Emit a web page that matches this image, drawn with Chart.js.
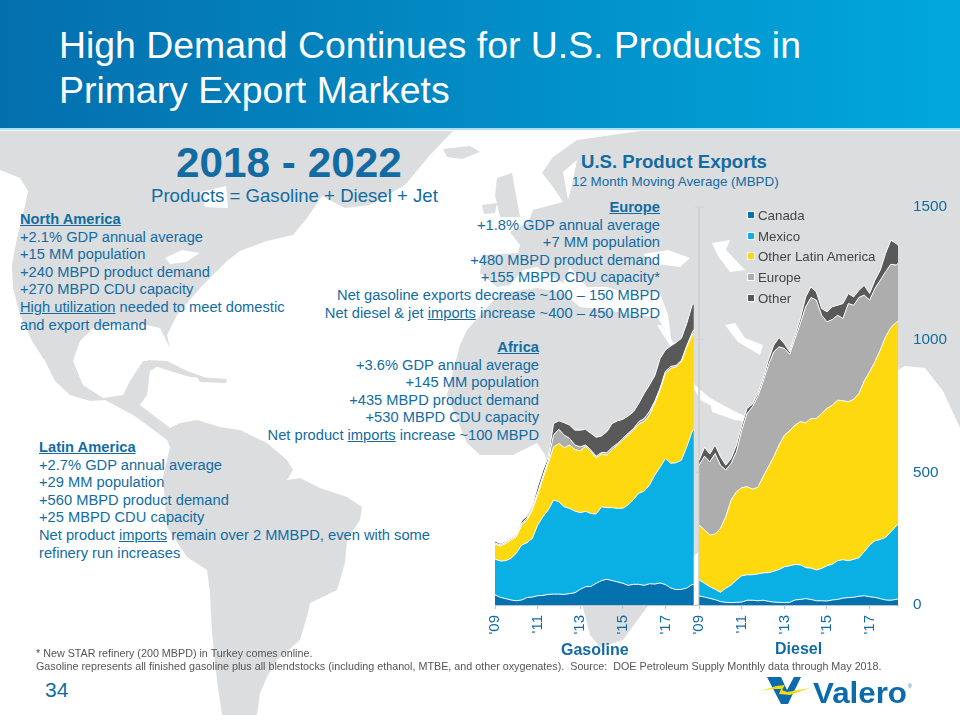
<!DOCTYPE html>
<html>
<head>
<meta charset="utf-8">
<title>High Demand Continues for U.S. Products</title>
<script src="https://cdn.jsdelivr.net/npm/chart.js@4"></script>
<style>
    html, body { margin: 0; padding: 0; background: #fff; }
    #page { position: relative; width: 960px; height: 720px; overflow: hidden; font-family: "Liberation Sans", Arial, sans-serif; color: #126ca3; }
    #header { position: absolute; left: 0; top: 0; width: 960px; height: 128px; background: linear-gradient(to right, #046fad, #00a8dd); border-bottom: 2px solid #a9e0f5; }
    #title { position: absolute; left: 59px; top: 23px; font-size: 37.4px; line-height: 45px; color: #fff; white-space: nowrap; }
    #map { position: absolute; left: 0; top: 130px; }
    #chartbox { position: absolute; left: 475px; top: 190px; width: 485px; height: 460px; }
    .t { position: absolute; white-space: nowrap; }
    .block { font-size: 14.7px; line-height: 17.6px; }
    .right { text-align: right; }
    .block b { text-decoration: underline; }
    #legend { position: absolute; left: 747px; top: 206px; font-size: 13.3px; color: #454545; }
    #legend div { height: 20.7px; line-height: 20.7px; white-space: nowrap; }
    #legend i { display: inline-block; width: 6px; height: 6px; border: 1px solid #fff; margin-right: 3px; vertical-align: 1px; }
    #foot { left: 36px; top: 647px; font-size: 10.75px; line-height: 13px; color: #555; }
</style>
</head>
<body>
<div id="page">
    <svg id="map" width="960" height="590" viewBox="0 130 960 590">
        <g fill="#dcdddf">
            <!-- north + south america, greenland -->
            <path d="M0 131 L453 131 L430 155 L405 185 L370 205 L345 208 L322 196 L307 218 L293 235 L267 241 L240 251 L227 261 L210 278 L200 288 L177 315 L167 335 L170 348 L160 328 L147 325 L120 325 L93 328 L80 341 L73 361 L83 385 L103 398 L123 395 L130 381 L143 361 L167 361 L150 371 L147 395 L140 405 L157 418 L170 428 L180 423 L197 420 L220 427 L240 430 L267 443 L287 460 L293 470 L287 480 L300 478 L320 488 L347 497 L362 507 L360 520 L347 540 L345 563 L337 590 L310 603 L308 613 L300 640 L277 660 L267 677 L260 693 L257 715 L222 715 L217 680 L212 633 L210 593 L207 570 L187 557 L167 527 L163 477 L170 447 L167 440 L147 425 L133 415 L105 400 L90 401 L70 395 L55 381 L45 361 L32 341 L20 315 L13 288 L12 265 L17 238 L23 215 L28 191 L20 178 L0 170 Z"/>
            <path d="M147 360 L167 361 L187 371 L207 378 L190 377 L160 368 Z"/>
            <path d="M197 377 L227 379 L226 383 L200 382 Z"/>
            <path d="M443 149 L470 146 L480 152 L462 159 L447 157 Z"/>
            <path d="M497 178 L512 173 L520 217 L500 217 L495 195 Z"/>
            <path d="M482 205 L497 203 L495 213 L484 214 Z"/>
            <!-- europe and asia -->
            <path d="M640 131 L577 140 L553 157 L542 173 L553 187 L563 202 L533 210 L528 223 L510 232 L520 245 L518 253 L482 255 L480 273 L497 287 L510 285 L523 270 L537 267 L553 277 L563 283 L570 267 L587 287 L607 287 L617 290 L633 290 L660 293 L668 315 L672 345 L695 385 L710 398 L760 425 L800 470 L898 370 L905 366 L925 368 L943 391 L960 428 L960 131 Z"/>
            <!-- africa -->
            <path d="M460 345 L467 330 L500 293 L537 288 L563 293 L580 307 L607 310 L633 315 L657 317 L661 323 L672 345 L700 400 L745 423 L735 465 L700 550 L647 607 L623 640 L600 647 L590 635 L583 607 L545 455 L537 443 L513 455 L480 455 L467 443 L447 395 Z"/>
        </g>
        <g fill="#fff">
            <path d="M200 192 L226 186 L228 208 L205 207 Z"/>
            <path d="M165 258 L182 250 L200 253 L186 262 L170 264 Z"/>
            <path d="M643 254 L668 250 L690 258 L680 267 L655 264 Z"/>
            <path d="M712 243 L730 240 L726 250 L745 270 L730 272 L718 256 Z"/>
            <path d="M725 325 L735 323 L745 338 L763 345 L760 355 L738 342 Z"/>
            <path d="M710 400 L760 423 L735 420 L712 412 Z"/>
            <path d="M563 172 L577 160 L572 185 L568 200 Z"/>
            <path d="M657 325 L661 325 L675 345 L672 349 Z"/>
        </g>
    </svg>
    <div id="header"><div id="title">High Demand Continues for U.S. Products in<br>Primary Export Markets</div></div>

    <div class="t" style="left:176px;top:139px;font-size:42.3px;font-weight:bold;line-height:48px">2018 - 2022</div>
    <div class="t" style="left:151px;top:185px;font-size:18.6px;line-height:22px">Products = Gasoline + Diesel + Jet</div>
    <div class="t" style="left:581px;top:151px;font-size:18.6px;font-weight:bold;line-height:22px">U.S. Product Exports</div>
    <div class="t" style="left:572px;top:174px;font-size:13.4px;line-height:16px">12 Month Moving Average (MBPD)</div>

    <div class="t block" style="left:20px;top:211px"><b>North America</b><br>+2.1% GDP annual average<br>+15 MM population<br>+240 MBPD product demand<br>+270 MBPD CDU capacity<br><u>High utilization</u> needed to meet domestic<br>and export demand</div>
    <div class="t block" style="left:39px;top:439px"><b>Latin America</b><br>+2.7% GDP annual average<br>+29 MM population<br>+560 MBPD product demand<br>+25 MBPD CDU capacity<br>Net product <u>imports</u> remain over 2 MMBPD, even with some<br>refinery run increases</div>
    <div class="t block right" style="right:300px;top:199px"><b>Europe</b><br>+1.8% GDP annual average<br>+7 MM population<br>+480 MBPD product demand<br>+155 MBPD CDU capacity*<br>Net gasoline exports decrease ~100 – 150 MBPD<br>Net diesel &amp; jet <u>imports</u> increase ~400 – 450 MBPD</div>
    <div class="t block right" style="right:421px;top:339px"><b>Africa</b><br>+3.6% GDP annual average<br>+145 MM population<br>+435 MBPD product demand<br>+530 MBPD CDU capacity<br>Net product <u>imports</u> increase ~100 MBPD</div>

    <div id="chartbox"><canvas id="myChart"></canvas></div>
    <div id="legend"></div>

    <div class="t" style="left:561px;top:641px;font-size:16px;font-weight:bold;line-height:18px">Gasoline</div>
    <div class="t" style="left:775px;top:640px;font-size:16px;font-weight:bold;line-height:18px">Diesel</div>
    <div class="t" id="foot">* New STAR refinery (200 MBPD) in Turkey comes online.<br>Gasoline represents all finished gasoline plus all blendstocks (including ethanol, MTBE, and other oxygenates).&nbsp; Source:&nbsp; DOE Petroleum Supply Monthly data through May 2018.</div>
    <div class="t" style="left:45px;top:678px;font-size:21px;line-height:24px">34</div>

    <svg style="position:absolute;left:755px;top:672px" width="160" height="40" viewBox="755 672 160 40">
        <path d="M767 677 L781 677 L787 690 L794 677 L801 677 L788 704 L781 704 Z" fill="#0b6bab"/>
        <path d="M761 691 L776 686 L785 685 L782 690 L787 692 L810 688 L790 695 L779 694 L781 689 L772 689 Z" fill="#f6d90f"/>
        <text x="813" y="703" font-family="Liberation Sans" font-weight="bold" font-size="29" textLength="94" lengthAdjust="spacingAndGlyphs" fill="#0b6bab">Valero</text>
        <text x="908" y="688" font-family="Liberation Sans" font-size="5" fill="#0b6bab">®</text>
    </svg>
</div>

<script>
//================================data========================================
var months = [0, 3, 6, 9, 12, 15, 18, 21, 24, 27, 30, 33, 36, 39, 42, 45, 48, 51, 54, 57, 60, 63, 66, 69, 72, 75, 78, 81, 84, 87, 90, 93, 96, 99, 102, 105, 108, 111, 112];
var dieselStart = 115;
var tickMonths = [0, 24, 48, 72, 96, 115, 139, 163, 187, 211];
var tickLabels = ["'09", "'11", "'13", "'15", "'17", "'09", "'11", "'13", "'15", "'17"];
var yTicks = [0, 500, 1000, 1500];

var regions = ['Canada', 'Mexico', 'Other Latin America', 'Europe', 'Other'];
var colors = ['#0572b0', '#0ab0e4', '#ffd90f', '#adadad', '#595959'];

var gasolineCanada = [38,29,24,19,16,19,28,30,35,36,40,41,41,40,43,46,59,69,70,82,92,97,92,87,82,74,78,78,74,80,79,83,77,64,58,59,64,77,78];
var gasolineMexico = [135,137,143,157,179,207,207,221,266,297,318,355,348,330,321,308,289,284,275,261,278,270,275,277,283,303,320,343,355,372,411,436,475,470,478,487,532,576,584];
var gasolineLatin = [56,56,65,69,62,75,85,107,113,144,176,200,220,223,239,232,233,246,233,212,199,198,219,239,257,263,261,261,262,264,270,291,321,357,362,371,377,364,361];
var gasolineEurope = [5,5,5,5,5,6,8,8,10,10,12,45,53,47,25,17,15,4,6,6,6,9,8,6,6,7,6,9,12,13,8,8,8,8,5,5,4,8,15];
var gasolineOther = [7,5,3,3,3,10,8,8,22,21,13,43,32,47,50,56,63,59,63,71,62,79,90,85,72,65,63,69,94,100,96,111,80,77,86,83,84,104,98];

var dieselCanada = [34,30,25,20,13,10,9,10,11,18,18,16,18,14,11,10,9,10,19,21,24,21,16,16,15,19,21,26,28,29,33,35,31,29,24,19,18,21,23];
var dieselMexico = [60,52,44,39,35,53,66,84,99,96,96,101,103,108,116,124,135,138,134,130,117,118,116,122,133,135,146,145,139,143,145,166,195,213,223,236,258,277,281];
var dieselLatin = [207,201,195,208,241,270,321,333,332,332,323,326,362,399,432,469,496,509,525,540,546,564,571,584,593,599,605,599,599,603,619,644,653,675,714,756,770,767,766];
var dieselEurope = [226,278,276,304,238,176,138,151,217,276,310,342,358,383,395,370,327,288,326,370,437,456,446,370,326,323,320,310,370,355,362,323,270,276,263,245,238,216,217];
var dieselOther = [19,33,29,32,32,18,18,25,19,19,10,12,13,19,25,35,18,9,13,19,37,40,31,25,38,48,38,56,38,31,27,37,25,31,38,69,91,81,69];

var gasolineSeries = [gasolineCanada, gasolineMexico, gasolineLatin, gasolineEurope, gasolineOther];
var dieselSeries = [dieselCanada, dieselMexico, dieselLatin, dieselEurope, dieselOther];

//================================chart========================================
function makeDatasets(series, offset, stackName) {
    let list = [];
    for (let i = 0; i < series.length; i++) {
        list.push({
            label: regions[i] + ' ' + stackName,
            stack: stackName,
            data: series[i].map((v, k) => ({ x: months[k] + offset, y: v })),
            backgroundColor: colors[i],
            borderColor: '#fff',
            borderWidth: 1,
            pointRadius: 0,
            fill: i == 0 ? 'origin' : '-1'
        });
    }
    return list;
}

// the vertical axis sits between the panels, its labels stay on the right
const midAxis = {
    id: 'midAxis',
    beforeDatasetsDraw(chart) {
        const c = chart.ctx, x = chart.scales.x.getPixelForValue(dieselStart), y = chart.scales.y;
        c.save();
        c.strokeStyle = '#cfd1d3';
        c.lineWidth = 2;
        c.beginPath();
        c.moveTo(x, y.getPixelForValue(1500));
        c.lineTo(x, y.getPixelForValue(0));
        c.stroke();
        c.lineWidth = 1;
        yTicks.forEach((v) => {
            c.beginPath();
            c.moveTo(x - 4, y.getPixelForValue(v));
            c.lineTo(x + 5, y.getPixelForValue(v));
            c.stroke();
        });
        c.restore();
    }
};

const ctx = document.getElementById('myChart');
var chart = new Chart(ctx, {
    type: 'line',
    plugins: [midAxis],
    data: { datasets: makeDatasets(gasolineSeries, 0, 'gasoline').concat(makeDatasets(dieselSeries, dieselStart, 'diesel')) },
    options: {
        responsive: true,
        maintainAspectRatio: false,
        animation: false,
        elements: { line: { tension: 0 } },
        layout: { padding: { top: 17, left: 20, right: 0, bottom: 0 } },
        plugins: { legend: { display: false }, tooltip: { enabled: false } },
        scales: {
            x: {
                type: 'linear',
                min: 0,
                max: 227,
                afterBuildTicks: (axis) => { axis.ticks = tickMonths.map((m) => ({ value: m })); },
                afterFit: (axis) => { axis.height = 45; axis.paddingLeft = 0; axis.paddingRight = 0; },
                grid: { drawOnChartArea: false, color: '#b9c4cc', tickLength: 4 },
                border: { color: '#b9c4cc' },
                ticks: {
                    autoSkip: false,
                    minRotation: 90,
                    maxRotation: 90,
                    padding: 6,
                    color: '#126ca3',
                    font: { family: 'Liberation Sans', size: 15 },
                    callback: (v) => tickLabels[tickMonths.indexOf(v)]
                }
            },
            y: {
                position: 'right',
                stacked: true,
                min: 0,
                max: 1500,
                afterBuildTicks: (axis) => { axis.ticks = yTicks.map((v) => ({ value: v })); },
                afterFit: (axis) => { axis.width = 62; },
                grid: { display: false },
                border: { display: false },
                ticks: {
                    padding: 7,
                    color: '#126ca3',
                    font: { family: 'Liberation Sans', size: 15.3 },
                    callback: (v) => String(v)
                }
            }
        }
    }
});

// legend from the same names and colours
var legend = document.getElementById('legend');
regions.forEach((name, i) => {
    let row = document.createElement('div');
    row.innerHTML = '<i style="background:' + colors[i] + '"></i>' + name;
    legend.appendChild(row);
});
</script>
</body>
</html>
